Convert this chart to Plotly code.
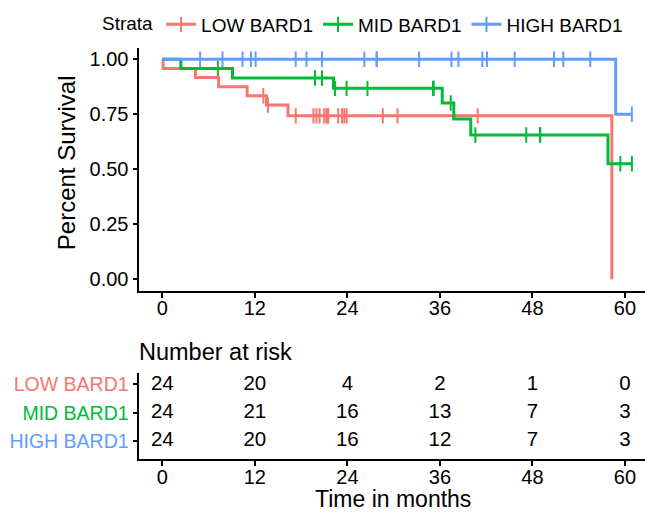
import plotly.graph_objects as go

# ---------------- data ----------------
groups = ["LOW BARD1", "MID BARD1", "HIGH BARD1"]
colors = ["#F8766D", "#00BA38", "#619CFF"]

low_event_t = [0.1, 4.3, 7.3, 11.0, 13.5, 16.3, 58.3]
low_event_s = [0.958, 0.917, 0.875, 0.834, 0.792, 0.743, 0.0]
low_censor_t = [13.1, 13.7, 17.3, 19.6, 20.0, 20.4, 21.0, 21.3, 21.5, 21.5,
                22.8, 23.3, 23.6, 23.9, 28.6, 30.5, 40.9]

mid_event_t = [2.4, 9.1, 22.2, 36.3, 37.8, 40.0, 57.8]
mid_event_s = [0.958, 0.915, 0.868, 0.801, 0.729, 0.656, 0.525]
mid_censor_t = [7.2, 19.8, 20.7, 22.4, 23.9, 26.6, 35.1, 35.2, 37.4, 40.6,
                47.2, 49.0, 49.0, 59.4, 60.9]

high_event_t = [58.8]
high_event_s = [0.75]
high_censor_t = [4.9, 7.8, 10.4, 11.5, 12.1, 17.3, 18.7, 20.7, 26.2, 27.8, 27.8,
                 33.3, 37.5, 38.4, 41.5, 42.1, 45.7, 50.8, 52.0, 55.5, 60.9]

risk_times = [0, 12, 24, 36, 48, 60]
risk_low = [24, 20, 4, 2, 1, 0]
risk_mid = [24, 21, 16, 13, 7, 3]
risk_high = [24, 20, 16, 12, 7, 3]

x_ticks = [0, 12, 24, 36, 48, 60]
y_ticks = [0.0, 0.25, 0.50, 0.75, 1.00]
y_ticklabels = ["0.00", "0.25", "0.50", "0.75", "1.00"]

FONT = "Liberation Sans, Arial, Helvetica, sans-serif"

def surv_at(t, ev_t, ev_s):
    s = 1.0
    for et, es in zip(ev_t, ev_s):
        if et <= t:
            s = es
    return s

series = [
    (low_event_t, low_event_s, low_censor_t),
    (mid_event_t, mid_event_s, mid_censor_t),
    (high_event_t, high_event_s, high_censor_t),
]

fig = go.Figure()

for name, col, (ev_t, ev_s, cen_t) in zip(groups, colors, series):
    t_end = max(ev_t + cen_t)
    xs = [0.0] + list(ev_t)
    ys = [1.0] + list(ev_s)
    if t_end > xs[-1]:
        xs.append(t_end)
        ys.append(ys[-1])
    fig.add_trace(go.Scatter(
        x=xs, y=ys, mode="lines", line=dict(color=col, width=3, shape="hv"),
        showlegend=False, hoverinfo="skip", xaxis="x", yaxis="y"))
    fig.add_trace(go.Scatter(
        x=cen_t, y=[surv_at(t, ev_t, ev_s) for t in cen_t], mode="markers",
        marker=dict(symbol="line-ns-open", size=11, color=col,
                    line=dict(color=col, width=2)),
        showlegend=False, hoverinfo="skip", xaxis="x", yaxis="y"))
    # legend key
    fig.add_trace(go.Scatter(
        x=[None], y=[None], mode="lines+markers", name=name,
        line=dict(color=col, width=3),
        marker=dict(symbol="line-ns-open", size=11, color=col,
                    line=dict(color=col, width=2)),
        xaxis="x", yaxis="y"))

# risk table
row_vals = [3, 2, 1]
for rv, risk in zip(row_vals, [risk_low, risk_mid, risk_high]):
    fig.add_trace(go.Scatter(
        x=risk_times, y=[rv] * len(risk_times), mode="text",
        text=[str(v) for v in risk], textposition="middle center",
        textfont=dict(family=FONT, size=20.5, color="black"),
        showlegend=False, hoverinfo="skip", xaxis="x2", yaxis="y2"))

W, H = 645, 512
x_dom = [139.3 / W, 1.0]
axis_common = dict(showline=True, linecolor="black", linewidth=1.6,
                   ticks="outside", ticklen=5, tickwidth=1.6, tickcolor="black",
                   showgrid=False, zeroline=False,
                   tickfont=dict(family=FONT, size=20, color="black"))

fig.update_layout(
    width=W, height=H,
    margin=dict(l=0, r=0, t=0, b=0),
    paper_bgcolor="white", plot_bgcolor="white",
    font=dict(family=FONT, color="black"),
    xaxis=dict(domain=x_dom, range=[-2.99, 62.6], tickvals=x_ticks,
               anchor="y", ticklabelstandoff=-7, **axis_common),
    yaxis=dict(domain=[(H - 290.7) / H, (H - 48.3) / H], range=[-0.052, 1.05],
               tickvals=y_ticks, ticktext=y_ticklabels, anchor="x", **axis_common),
    xaxis2=dict(domain=x_dom, range=[-2.99, 62.6], tickvals=x_ticks,
                anchor="y2", ticklabelstandoff=-6, **axis_common),
    yaxis2=dict(domain=[(H - 459.3) / H, (H - 373) / H], range=[0.36, 3.40],
                tickvals=row_vals,
                ticktext=[f"<span style='color:{c}'>{g}</span>" for g, c in zip(groups, colors)],
                anchor="x2", **{**axis_common,
                                "tickfont": dict(family=FONT, size=19.5)}),
    legend=dict(orientation="h", x=0.155, xanchor="left", y=(H - 24.5) / H,
                yanchor="middle", font=dict(family=FONT, size=19),
                title=dict(text="Strata", side="left",
                           font=dict(family=FONT, size=19)),
                bgcolor="rgba(0,0,0,0)", itemwidth=30, tracegroupgap=0),
    annotations=[
        dict(text="Percent Survival", x=66.7 / W, y=(H - 162.5) / H,
             xref="paper", yref="paper", textangle=-90, showarrow=False,
             xanchor="center", yanchor="middle",
             font=dict(family=FONT, size=24, color="black")),
        dict(text="Number at risk", x=137 / W, y=(H - 351.7) / H,
             xref="paper", yref="paper", showarrow=False,
             xanchor="left", yanchor="middle",
             font=dict(family=FONT, size=23.5, color="black")),
        dict(text="Time in months", x=392.5 / W, y=(H - 499) / H,
             xref="paper", yref="paper", showarrow=False,
             xanchor="center", yanchor="middle",
             font=dict(family=FONT, size=23, color="black")),
    ],
)

fig.write_html("out.html", config={"displayModeBar": False},
               post_script="document.body.style.margin='0';document.body.style.padding='0';")
